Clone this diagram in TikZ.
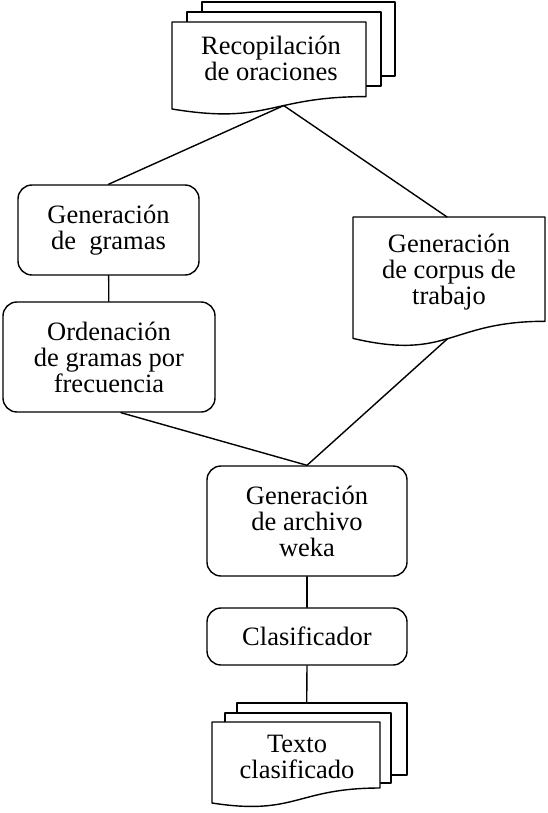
\documentclass[tikz,border=0pt]{standalone}
\usepackage{fontspec}
\setmainfont{Liberation Serif}
\usepackage{tikz}

\begin{document}
\begin{tikzpicture}[line cap=round,line join=round,x=1pt,y=-1pt,line width=1.4pt,
  caja/.style={draw,rounded corners=14pt,align=center,inner sep=0pt,
    font=\fontsize{26.5}{26}\selectfont},
  etiqueta/.style={align=center,inner sep=0pt,font=\fontsize{26.5}{26}\selectfont}]

\useasboundingbox (0,0) rectangle (547,813);

% Recopilacion (varias hojas)
\draw (202,12)-- (202,2)-- (395,2)-- (395,76)-- (381,76);
\draw (187,22)-- (187,12)-- (381,12)-- (381,86)-- (366,86);
\draw [fill=white] (172,22)-- (366,22)-- (366,96.6)
  .. controls (269,96.6) and (269,125) .. coordinate[pos=0.4] (recopbot) (172,109)-- cycle;
\node[etiqueta] (recop) at (271,58) {Recopilación\\de oraciones};

\node[caja,minimum width=181pt,minimum height=90pt] (gramas) at (108.5,230) {Generación\\de\ \ gramas};
\node[caja,minimum width=212pt,minimum height=110pt] (orden) at (109,357) {Ordenación\\de gramas por\\frecuencia};

% corpus (una hoja)
\draw (353,217)-- coordinate[pos=0.49] (corpustop) (545,217)-- (545,321.3)
  .. controls (449,321.3) and (449,360.9) .. coordinate[pos=0.51] (corpusbot) (353,338.4)-- cycle;
\node[etiqueta] (corpus) at (449,272) {Generación\\de corpus de\\trabajo};

\node[caja,minimum width=200pt,minimum height=110pt] (weka) at (307,521) {Generación\\de archivo\\weka};
\node[caja,minimum width=200pt,minimum height=57pt] (clasif) at (307,636.5) {Clasificador};

% Texto clasificado (varias hojas)
\draw (237,713)-- (237,703)-- coordinate[pos=0.41] (textotop) (407,703)-- (407,775)-- (391,775);
\draw (225,722)-- (225,713)-- (391,713)-- (391,783)-- (380,783);
\draw [fill=white] (212,722)-- (380,722)-- (380,788)
  .. controls (296,788) and (296,816) .. (212,803)-- cycle;
\node[etiqueta] (texto) at (297,757) {Texto\\clasificado};

\draw (recopbot)-- (gramas.north);
\draw (recopbot)-- (corpustop);
\draw (gramas)-- (orden);
\draw ([xshift=12pt]orden.south)-- (weka.north);
\draw (corpusbot)-- (weka.north);
\draw (weka)-- (clasif);
\draw (clasif.south)-- (textotop);
\end{tikzpicture}
\end{document}
